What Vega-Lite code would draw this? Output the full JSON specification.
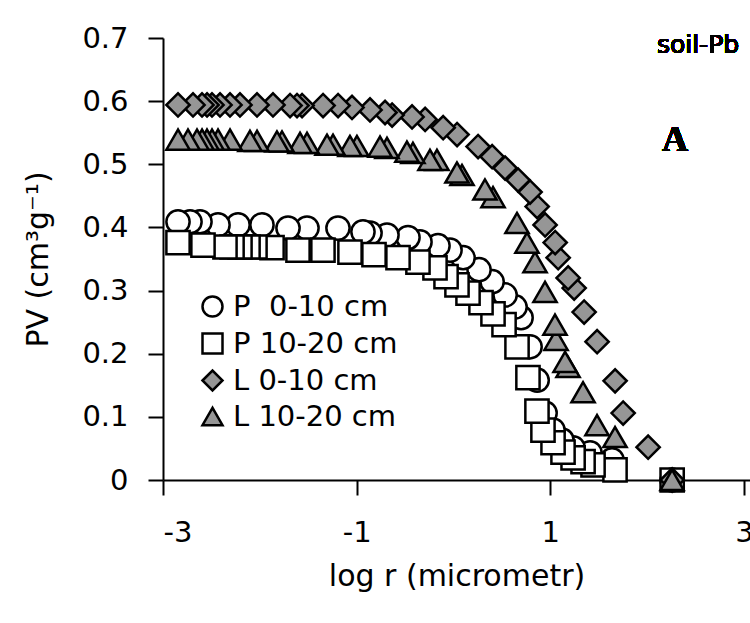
{
  "$schema": "https://vega.github.io/schema/vega-lite/v6.json",
  "width": 587,
  "height": 442,
  "autosize": {"type": "none"},
  "padding": {"left": 163, "top": 38, "right": 0, "bottom": 143},
  "background": "white",
  "config": {
    "view": {"stroke": null},
    "font": "DejaVu Sans",
    "axis": {
      "grid": false,
      "domainColor": "black",
      "domainWidth": 2,
      "tickColor": "black",
      "tickWidth": 2,
      "tickSize": 15,
      "labelFont": "DejaVu Sans",
      "labelFontSize": 29,
      "labelColor": "black",
      "titleFont": "DejaVu Sans",
      "titleFontSize": 30,
      "titleFontWeight": "normal",
      "titleColor": "black"
    },
    "legend": {
      "labelFont": "DejaVu Sans",
      "labelFontSize": 29,
      "labelColor": "black",
      "labelLimit": 400,
      "symbolStrokeColor": "black",
      "symbolStrokeWidth": 2.5,
      "symbolSize": 400,
      "padding": 0,
      "rowPadding": 6,
      "labelOffset": 6
    }
  },
  "data": {
    "values": [
      {"s": "P 0-10", "x": 2.258, "y": 0},
      {"s": "P 0-10", "x": 1.637, "y": 0.032},
      {"s": "P 0-10", "x": 1.41, "y": 0.043},
      {"s": "P 0-10", "x": 1.235, "y": 0.051},
      {"s": "P 0-10", "x": 1.121, "y": 0.063},
      {"s": "P 0-10", "x": 1.028, "y": 0.079},
      {"s": "P 0-10", "x": 0.946, "y": 0.106},
      {"s": "P 0-10", "x": 0.864, "y": 0.158},
      {"s": "P 0-10", "x": 0.791, "y": 0.211},
      {"s": "P 0-10", "x": 0.698, "y": 0.257},
      {"s": "P 0-10", "x": 0.636, "y": 0.274},
      {"s": "P 0-10", "x": 0.533, "y": 0.293},
      {"s": "P 0-10", "x": 0.399, "y": 0.314},
      {"s": "P 0-10", "x": 0.264, "y": 0.333},
      {"s": "P 0-10", "x": 0.099, "y": 0.352},
      {"s": "P 0-10", "x": -0.036, "y": 0.364},
      {"s": "P 0-10", "x": -0.16, "y": 0.371},
      {"s": "P 0-10", "x": -0.346, "y": 0.377},
      {"s": "P 0-10", "x": -0.47, "y": 0.384},
      {"s": "P 0-10", "x": -0.687, "y": 0.388},
      {"s": "P 0-10", "x": -0.862, "y": 0.391},
      {"s": "P 0-10", "x": -0.935, "y": 0.393},
      {"s": "P 0-10", "x": -1.193, "y": 0.399},
      {"s": "P 0-10", "x": -1.513, "y": 0.399},
      {"s": "P 0-10", "x": -1.709, "y": 0.399},
      {"s": "P 0-10", "x": -1.978, "y": 0.404},
      {"s": "P 0-10", "x": -2.225, "y": 0.404},
      {"s": "P 0-10", "x": -2.432, "y": 0.404},
      {"s": "P 0-10", "x": -2.618, "y": 0.409},
      {"s": "P 0-10", "x": -2.721, "y": 0.409},
      {"s": "P 0-10", "x": -2.845, "y": 0.409},
      {"s": "P 10-20", "x": 2.258, "y": 0},
      {"s": "P 10-20", "x": 1.668, "y": 0.016},
      {"s": "P 10-20", "x": 1.441, "y": 0.024},
      {"s": "P 10-20", "x": 1.338, "y": 0.029},
      {"s": "P 10-20", "x": 1.235, "y": 0.035},
      {"s": "P 10-20", "x": 1.131, "y": 0.044},
      {"s": "P 10-20", "x": 1.028, "y": 0.059},
      {"s": "P 10-20", "x": 0.924, "y": 0.079},
      {"s": "P 10-20", "x": 0.862, "y": 0.109},
      {"s": "P 10-20", "x": 0.769, "y": 0.162},
      {"s": "P 10-20", "x": 0.656, "y": 0.211},
      {"s": "P 10-20", "x": 0.522, "y": 0.246},
      {"s": "P 10-20", "x": 0.408, "y": 0.263},
      {"s": "P 10-20", "x": 0.284, "y": 0.281},
      {"s": "P 10-20", "x": 0.15, "y": 0.296},
      {"s": "P 10-20", "x": 0.036, "y": 0.309},
      {"s": "P 10-20", "x": -0.077, "y": 0.322},
      {"s": "P 10-20", "x": -0.191, "y": 0.336},
      {"s": "P 10-20", "x": -0.367, "y": 0.345},
      {"s": "P 10-20", "x": -0.573, "y": 0.352},
      {"s": "P 10-20", "x": -0.821, "y": 0.357},
      {"s": "P 10-20", "x": -1.069, "y": 0.361},
      {"s": "P 10-20", "x": -1.348, "y": 0.364},
      {"s": "P 10-20", "x": -1.606, "y": 0.364},
      {"s": "P 10-20", "x": -1.874, "y": 0.368},
      {"s": "P 10-20", "x": -2.05, "y": 0.369},
      {"s": "P 10-20", "x": -2.122, "y": 0.369},
      {"s": "P 10-20", "x": -2.205, "y": 0.369},
      {"s": "P 10-20", "x": -2.287, "y": 0.369},
      {"s": "P 10-20", "x": -2.36, "y": 0.369},
      {"s": "P 10-20", "x": -2.587, "y": 0.372},
      {"s": "P 10-20", "x": -2.845, "y": 0.376},
      {"s": "L 0-10", "x": 2.258, "y": 0},
      {"s": "L 0-10", "x": 2.01, "y": 0.052},
      {"s": "L 0-10", "x": 1.752, "y": 0.106},
      {"s": "L 0-10", "x": 1.669, "y": 0.157},
      {"s": "L 0-10", "x": 1.483, "y": 0.219},
      {"s": "L 0-10", "x": 1.349, "y": 0.266},
      {"s": "L 0-10", "x": 1.246, "y": 0.304},
      {"s": "L 0-10", "x": 1.184, "y": 0.32},
      {"s": "L 0-10", "x": 1.081, "y": 0.352},
      {"s": "L 0-10", "x": 1.05, "y": 0.376},
      {"s": "L 0-10", "x": 0.946, "y": 0.404},
      {"s": "L 0-10", "x": 0.864, "y": 0.433},
      {"s": "L 0-10", "x": 0.791, "y": 0.456},
      {"s": "L 0-10", "x": 0.667, "y": 0.475},
      {"s": "L 0-10", "x": 0.533, "y": 0.494},
      {"s": "L 0-10", "x": 0.399, "y": 0.512},
      {"s": "L 0-10", "x": 0.254, "y": 0.528},
      {"s": "L 0-10", "x": 0.037, "y": 0.547},
      {"s": "L 0-10", "x": -0.107, "y": 0.558},
      {"s": "L 0-10", "x": -0.293, "y": 0.571},
      {"s": "L 0-10", "x": -0.428, "y": 0.575},
      {"s": "L 0-10", "x": -0.634, "y": 0.578},
      {"s": "L 0-10", "x": -0.707, "y": 0.582},
      {"s": "L 0-10", "x": -0.862, "y": 0.586},
      {"s": "L 0-10", "x": -1.048, "y": 0.59},
      {"s": "L 0-10", "x": -1.192, "y": 0.593},
      {"s": "L 0-10", "x": -1.347, "y": 0.593},
      {"s": "L 0-10", "x": -1.564, "y": 0.593},
      {"s": "L 0-10", "x": -1.616, "y": 0.593},
      {"s": "L 0-10", "x": -1.688, "y": 0.593},
      {"s": "L 0-10", "x": -1.864, "y": 0.594},
      {"s": "L 0-10", "x": -2.029, "y": 0.594},
      {"s": "L 0-10", "x": -2.205, "y": 0.594},
      {"s": "L 0-10", "x": -2.308, "y": 0.594},
      {"s": "L 0-10", "x": -2.411, "y": 0.594},
      {"s": "L 0-10", "x": -2.494, "y": 0.594},
      {"s": "L 0-10", "x": -2.545, "y": 0.594},
      {"s": "L 0-10", "x": -2.597, "y": 0.594},
      {"s": "L 0-10", "x": -2.69, "y": 0.594},
      {"s": "L 0-10", "x": -2.845, "y": 0.594},
      {"s": "L 10-20", "x": 2.257, "y": 0},
      {"s": "L 10-20", "x": 1.668, "y": 0.068},
      {"s": "L 10-20", "x": 1.482, "y": 0.087},
      {"s": "L 10-20", "x": 1.338, "y": 0.139},
      {"s": "L 10-20", "x": 1.183, "y": 0.179},
      {"s": "L 10-20", "x": 1.152, "y": 0.187},
      {"s": "L 10-20", "x": 1.059, "y": 0.222},
      {"s": "L 10-20", "x": 1.048, "y": 0.246},
      {"s": "L 10-20", "x": 0.945, "y": 0.298},
      {"s": "L 10-20", "x": 0.842, "y": 0.345},
      {"s": "L 10-20", "x": 0.759, "y": 0.376},
      {"s": "L 10-20", "x": 0.656, "y": 0.407},
      {"s": "L 10-20", "x": 0.408, "y": 0.448},
      {"s": "L 10-20", "x": 0.325, "y": 0.46},
      {"s": "L 10-20", "x": 0.088, "y": 0.483},
      {"s": "L 10-20", "x": 0.036, "y": 0.487},
      {"s": "L 10-20", "x": -0.171, "y": 0.507},
      {"s": "L 10-20", "x": -0.243, "y": 0.507},
      {"s": "L 10-20", "x": -0.419, "y": 0.518},
      {"s": "L 10-20", "x": -0.481, "y": 0.52},
      {"s": "L 10-20", "x": -0.687, "y": 0.526},
      {"s": "L 10-20", "x": -0.759, "y": 0.528},
      {"s": "L 10-20", "x": -0.997, "y": 0.529},
      {"s": "L 10-20", "x": -1.069, "y": 0.529},
      {"s": "L 10-20", "x": -1.244, "y": 0.531},
      {"s": "L 10-20", "x": -1.306, "y": 0.531},
      {"s": "L 10-20", "x": -1.513, "y": 0.534},
      {"s": "L 10-20", "x": -1.585, "y": 0.534},
      {"s": "L 10-20", "x": -1.771, "y": 0.536},
      {"s": "L 10-20", "x": -1.823, "y": 0.536},
      {"s": "L 10-20", "x": -2.029, "y": 0.537},
      {"s": "L 10-20", "x": -2.102, "y": 0.537},
      {"s": "L 10-20", "x": -2.308, "y": 0.539},
      {"s": "L 10-20", "x": -2.432, "y": 0.539},
      {"s": "L 10-20", "x": -2.494, "y": 0.539},
      {"s": "L 10-20", "x": -2.546, "y": 0.539},
      {"s": "L 10-20", "x": -2.597, "y": 0.539},
      {"s": "L 10-20", "x": -2.649, "y": 0.539},
      {"s": "L 10-20", "x": -2.742, "y": 0.539},
      {"s": "L 10-20", "x": -2.845, "y": 0.539}
    ]
  },
  "layer": [
    {
      "mark": {"type": "point", "filled": true, "strokeWidth": 2.5, "size": 540, "opacity": 1},
      "encoding": {
        "x": {
          "field": "x", "type": "quantitative",
          "scale": {"domain": [-3, 3.062], "nice": false, "zero": false},
          "axis": {"values": [-3, -1, 1, 3], "title": "log r (micrometr)", "labelPadding": 23, "titlePadding": 14, "labelExpr": "datum.value < 0 ? '-' + abs(datum.value) : '' + datum.value"}
        },
        "y": {
          "field": "y", "type": "quantitative",
          "scale": {"domain": [0, 0.7], "nice": false},
          "axis": {"values": [0, 0.1, 0.2, 0.3, 0.4, 0.5, 0.6, 0.7], "title": "PV (cm³g⁻¹)", "labelPadding": 20, "titlePadding": 28, "labelExpr": "datum.value == 0 ? '0' : format(datum.value, '.1f')"}
        },
        "shape": {
          "field": "s", "type": "nominal",
          "scale": {"domain": ["P 0-10", "P 10-20", "L 0-10", "L 10-20"], "range": ["circle", "square", "diamond", "triangle-up"]},
          "legend": {
            "title": null, "orient": "none", "legendX": 35, "legendY": 254,
            "labelExpr": "datum.value == 'P 0-10' ? 'P\u00a0\u00a00-10 cm' : datum.value == 'P 10-20' ? '\u00a0P 10-20 cm' : datum.value == 'L 0-10' ? '\u00a0L 0-10 cm' : 'L 10-20 cm'"
          }
        },
        "fill": {
          "field": "s", "type": "nominal",
          "scale": {"domain": ["P 0-10", "P 10-20", "L 0-10", "L 10-20"], "range": ["white", "white", "#969696", "#969696"]},
          "legend": {
            "title": null, "orient": "none", "legendX": 35, "legendY": 254,
            "labelExpr": "datum.value == 'P 0-10' ? 'P\u00a0\u00a00-10 cm' : datum.value == 'P 10-20' ? '\u00a0P 10-20 cm' : datum.value == 'L 0-10' ? '\u00a0L 0-10 cm' : 'L 10-20 cm'"
          }
        },
        "stroke": {
          "field": "s", "type": "nominal",
          "scale": {"domain": ["P 0-10", "P 10-20", "L 0-10", "L 10-20"], "range": ["black", "black", "black", "black"]},
          "legend": {
            "title": null, "orient": "none", "legendX": 35, "legendY": 254,
            "labelExpr": "datum.value == 'P 0-10' ? 'P\u00a0\u00a00-10 cm' : datum.value == 'P 10-20' ? '\u00a0P 10-20 cm' : datum.value == 'L 0-10' ? '\u00a0L 0-10 cm' : 'L 10-20 cm'"
          }
        }
      }
    },
    {
      "mark": {"type": "text", "text": "soil-Pb", "font": "DejaVu Sans", "fontSize": 25, "fontWeight": "normal", "align": "center", "baseline": "middle", "color": "black"},
      "encoding": {"x": {"datum": 2.525}, "y": {"datum": 0.689}}
    },
    {
      "mark": {"type": "text", "text": "A", "font": "Liberation Serif", "fontSize": 36, "fontWeight": "bold", "align": "center", "baseline": "middle", "color": "black"},
      "encoding": {"x": {"datum": 2.288}, "y": {"datum": 0.539}}
    }
  ]
}
